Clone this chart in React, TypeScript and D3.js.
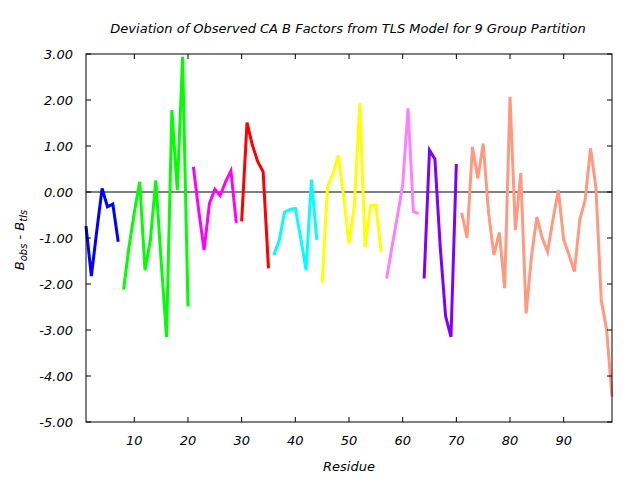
import React from "react";
import * as d3 from "d3";

// Residue numbers where each TLS group starts
const groupStarts = [1, 8, 21, 30, 36, 45, 57, 64, 71];

// Deviation values (B_obs - B_tls) per residue, one array per group
const group1 = [-0.74, -1.83, -0.85, 0.08, -0.32, -0.26, -1.08];
const group2 = [-2.12, -1.2, -0.45, 0.22, -1.7, -1.04, 0.25, -1.5, -3.15, 1.78, 0.04, 2.94, -2.49];
const group3 = [0.55, -0.4, -1.26, -0.25, 0.06, -0.08, 0.22, 0.46, -0.67];
const group4 = [-0.64, 1.51, 1.02, 0.66, 0.44, -1.66];
const group5 = [-1.37, -1.05, -0.44, -0.38, -0.36, -1.0, -1.7, 0.27, -1.04];
const group6 = [-1.97, 0.12, 0.38, 0.8, -0.1, -1.12, -0.3, 1.93, -1.2, -0.3, -0.28, -1.3];
const group7 = [-1.88, -1.2, -0.54, 0.15, 1.82, -0.43, -0.47];
const group8 = [-1.88, 0.91, 0.72, -1.2, -2.7, -3.15, 0.61];
const group9 = [
  -0.45, -1.0, 0.98, 0.3, 1.05, -0.45, -1.37, -0.88, -2.09, 2.07,
  -0.83, 0.41, -2.64, -1.4, -0.54, -1.0, -1.3, -0.6, 0.04, -1.04,
  -1.37, -1.73, -0.6, -0.17, 0.95, 0.1, -2.35, -3.0, -4.45,
];
const groups = [group1, group2, group3, group4, group5, group6, group7, group8, group9];

const groupColors = [
  "#0000ff", "#00ff00", "#ff00ff", "#ff0000", "#00ffff",
  "#ffff00", "#ff80ff", "#8000ff", "#ff9980",
];

const xTicks = [10, 20, 30, 40, 50, 60, 70, 80, 90];
const yTicks = [3, 2, 1, 0, -1, -2, -3, -4, -5];

const W = 640;
const H = 480;
const L = 86, R = 612, T = 54, B = 422;
const FONT = "'DejaVu Sans', Verdana, sans-serif";

export default function App() {
  const x = d3.scaleLinear().domain([1, 99]).range([L, R]);
  const y = d3.scaleLinear().domain([-5, 3]).range([B, T]);
  const line = d3
    .line<[number, number]>()
    .x((d) => x(d[0]))
    .y((d) => y(d[1]));

  const tickLen = 5;

  return (
    <svg
      width={W}
      height={H}
      style={{ position: "absolute", left: 0, top: 0, background: "#fff" }}
    >
      <rect x={0} y={0} width={W} height={H} fill="#fff" />
      {/* zero line */}
      <line x1={L} x2={R} y1={y(0)} y2={y(0)} stroke="#000" strokeWidth={1} />
      {/* data */}
      {groups.map((vals, gi) => {
        const pts: [number, number][] = vals.map((v, i) => [groupStarts[gi] + i, v]);
        return (
          <path
            key={gi}
            d={line(pts) || ""}
            fill="none"
            stroke={groupColors[gi]}
            strokeWidth={3}
          />
        );
      })}
      {/* frame */}
      <rect x={L} y={T} width={R - L} height={B - T} fill="none" stroke="#000" strokeWidth={1} />
      {/* x ticks */}
      {xTicks.map((t) => (
        <g key={"x" + t}>
          <line x1={x(t)} x2={x(t)} y1={B} y2={B - tickLen} stroke="#000" />
          <line x1={x(t)} x2={x(t)} y1={T} y2={T + tickLen} stroke="#000" />
          <text
            x={x(t)}
            y={445}
            textAnchor="middle"
            fontFamily={FONT}
            fontStyle="italic"
            fontSize={13}
            fill="#000"
          >
            {t}
          </text>
        </g>
      ))}
      {/* y ticks */}
      {yTicks.map((t) => (
        <g key={"y" + t}>
          <line x1={L} x2={L + tickLen} y1={y(t)} y2={y(t)} stroke="#000" />
          <line x1={R} x2={R - tickLen} y1={y(t)} y2={y(t)} stroke="#000" />
          <text
            x={73}
            y={y(t) + 5}
            textAnchor="end"
            fontFamily={FONT}
            fontStyle="italic"
            fontSize={13}
            fill="#000"
          >
            {t.toFixed(2)}
          </text>
        </g>
      ))}
      {/* title */}
      <text
        x={348}
        y={33}
        textAnchor="middle"
        fontFamily={FONT}
        fontStyle="italic"
        fontSize={13}
        fill="#000"
      >
        Deviation of Observed CA B Factors from TLS Model for 9 Group Partition
      </text>
      {/* x label */}
      <text
        x={349}
        y={471}
        textAnchor="middle"
        fontFamily={FONT}
        fontStyle="italic"
        fontSize={13}
        fill="#000"
      >
        Residue
      </text>
      {/* y label */}
      <text
        transform="translate(24,240) rotate(-90)"
        textAnchor="middle"
        fontFamily={FONT}
        fontStyle="italic"
        fontSize={13}
        fill="#000"
      >
        <tspan>B</tspan>
        <tspan fontSize={10} dy={3}>obs</tspan>
        <tspan dy={-3}> - B</tspan>
        <tspan fontSize={10} dy={3}>tls</tspan>
      </text>
    </svg>
  );
}
